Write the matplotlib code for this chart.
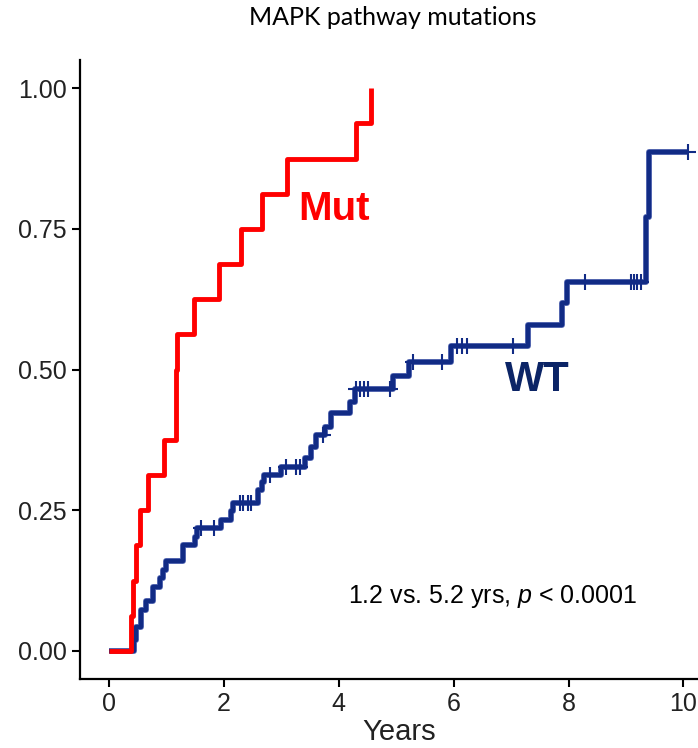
import numpy as np
import matplotlib.pyplot as plt

plt.rcParams['font.family'] = ['Liberation Sans', 'DejaVu Sans']
plt.rcParams['mathtext.fontset'] = 'custom'
plt.rcParams['mathtext.it'] = 'Liberation Sans:italic'
plt.rcParams['mathtext.rm'] = 'Liberation Sans'

# cumulative incidence, MAPK mutant group (event times in years)
mut_time = [0, 0.38, 0.42, 0.48, 0.55, 0.68, 0.96, 1.17, 1.19, 1.48, 1.92, 2.31, 2.66, 3.10, 4.31, 4.57]
mut_prob = [0, 0.0625, 0.125, 0.1875, 0.25, 0.3125, 0.375, 0.5, 0.5625, 0.625, 0.6875, 0.75,
            0.8125, 0.875, 0.9375, 1.0]

# wild type group
wt_time = [0, 0.44, 0.47, 0.56, 0.65, 0.77, 0.89, 0.94, 1.00, 1.29, 1.50, 1.53, 1.96, 2.13, 2.16,
           2.60, 2.66, 2.70, 3.00, 3.41, 3.52, 3.61, 3.76, 3.87, 4.19, 4.28, 4.95, 5.22, 5.96,
           7.30, 7.88, 7.97, 9.34, 9.40, 10.08]
wt_prob = [0, 0.020, 0.043, 0.073, 0.089, 0.114, 0.130, 0.144, 0.159, 0.188, 0.203, 0.218, 0.233,
           0.248, 0.263, 0.286, 0.300, 0.313, 0.327, 0.343, 0.362, 0.384, 0.398, 0.422, 0.443,
           0.465, 0.488, 0.513, 0.541, 0.580, 0.618, 0.656, 0.771, 0.887, 0.887]
wt_censor = [1.60, 1.84, 2.28, 2.33, 2.42, 2.48, 2.80, 3.09, 3.26, 3.32, 3.73, 4.31, 4.38, 4.45,
             4.51, 4.89, 5.29, 5.79, 6.06, 6.15, 6.23, 7.03, 8.28, 9.08, 9.14, 9.20, 9.26, 10.08]

red = '#ff0000'
navy = '#112b85'

fig = plt.figure(figsize=(6.98, 7.48), dpi=100)
ax = fig.add_axes([0.1146, 0.0922, 0.914, 0.8275])

ax.plot(wt_time, wt_prob, drawstyle='steps-post', color='#4c60ad', lw=4.2, solid_capstyle='butt')
ax.plot(wt_time, wt_prob, drawstyle='steps-post', color=navy, lw=3.0, solid_capstyle='butt')
idx = np.searchsorted(wt_time, wt_censor, side='right') - 1
ax.plot(wt_censor, np.array(wt_prob)[idx], ls='none', marker='+', ms=11, mew=1.5, color=navy)

ax.plot(mut_time, mut_prob, drawstyle='steps-post', color=red, lw=3.5, solid_capstyle='butt')

ax.text(3.3, 0.785, 'Mut', color=red, fontsize=29, fontweight='bold', ha='left', va='center')
ax.text(6.9, 0.482, 'WT', color='#0b2466', fontsize=30, fontweight='bold', ha='left', va='center')
ax.text(4.16, 0.096, '1.2 vs. 5.2 yrs, $p$ < 0.0001', fontsize=18, ha='left', va='center')

ax.set_xlim(-0.5, 10.6)
ax.set_ylim(-0.05, 1.05)
ax.set_xticks([0, 2, 4, 6, 8, 10])
ax.set_yticks([0, 0.25, 0.5, 0.75, 1.0])
ax.set_yticklabels(['0.00', '0.25', '0.50', '0.75', '1.00'])
ax.tick_params(labelsize=18, width=1.5, length=6, color='black', labelcolor='#222222')
for s in ['top', 'right']:
    ax.spines[s].set_visible(False)
for s in ['left', 'bottom']:
    ax.spines[s].set_linewidth(1.6)

ax.set_xlabel('Years', fontsize=21, labelpad=1, color='#222222')
fig.text(0.562, 0.976, 'MAPK pathway mutations', fontsize=18, ha='center', va='center',
         family=['Lato', 'DejaVu Sans'])

fig.savefig('out.png', dpi=100)
